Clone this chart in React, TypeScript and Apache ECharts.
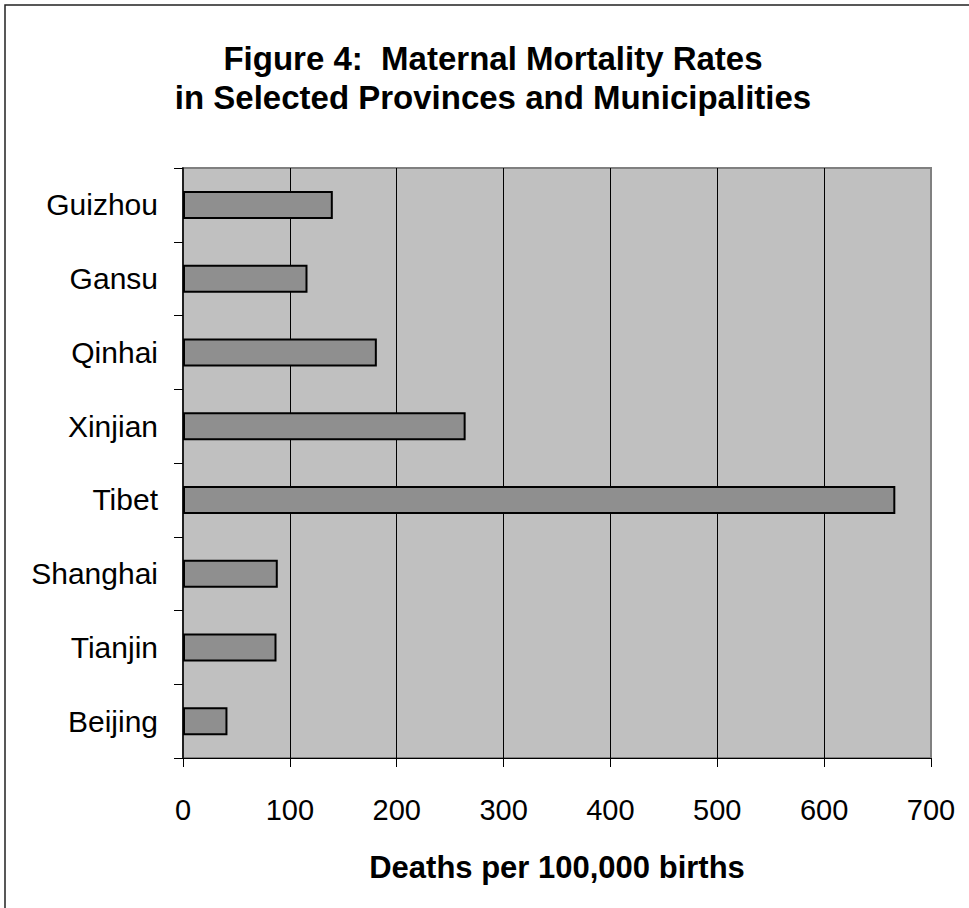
import React, { useEffect, useRef } from "react";
import * as echarts from "echarts";

const categories = ["Beijing", "Tianjin", "Shanghai", "Tibet", "Xinjian", "Qinhai", "Gansu", "Guizhou"];
const values = [41.6, 87.5, 88.7, 666.6, 264.5, 181.4, 116.5, 140.2];
const xTicks = { min: 0, max: 700, interval: 100 };
const titleLines = ["Figure 4:  Maternal Mortality Rates", "in Selected Provinces and Municipalities"];
const axisName = "Deaths per 100,000 births";

const FONT = "'Liberation Sans', Arial, Helvetica, sans-serif";

export default function App() {
  const ref = useRef<HTMLDivElement>(null);
  useEffect(() => {
    if (!ref.current) return;
    const chart = echarts.init(ref.current, undefined, { renderer: "svg" });
    chart.setOption({
      animation: false,
      backgroundColor: "#ffffff",
      grid: {
        left: 183,
        top: 168,
        right: 38,
        bottom: 150,
        show: true,
        backgroundColor: "#c0c0c0",
        borderColor: "#808080",
        borderWidth: 2,
      },
      graphic: [
        {
          type: "rect",
          shape: { x: 5, y: 5, width: 2000, height: 2000 },
          style: { fill: "none", stroke: "#222", lineWidth: 1.5 },
          silent: true,
        },
        {
          type: "text",
          x: 493,
          y: 58,
          style: {
            text: titleLines[0],
            font: `bold 33px ${FONT}`,
            fill: "#000",
            textAlign: "center",
            textVerticalAlign: "middle",
          },
        },
        {
          type: "text",
          x: 493,
          y: 97,
          style: {
            text: titleLines[1],
            font: `bold 33px ${FONT}`,
            fill: "#000",
            textAlign: "center",
            textVerticalAlign: "middle",
          },
        },
      ],
      xAxis: {
        type: "value",
        min: xTicks.min,
        max: xTicks.max,
        interval: xTicks.interval,
        name: axisName,
        nameLocation: "middle",
        nameGap: 94,
        nameTextStyle: { fontFamily: FONT, fontSize: 31, fontWeight: "bold", color: "#000" },
        axisLine: { show: true, lineStyle: { color: "#000", width: 1 } },
        axisTick: { show: true, length: 9, lineStyle: { color: "#000", width: 1 } },
        axisLabel: { fontFamily: FONT, fontSize: 29, color: "#000", margin: 37 },
        splitLine: { show: true, showMinLine: false, showMaxLine: false, lineStyle: { color: "#000", width: 1 } },
      },
      yAxis: {
        type: "category",
        data: categories,
        axisLine: { show: true, lineStyle: { color: "#000", width: 1.5 } },
        axisTick: { show: true, length: 9, lineStyle: { color: "#000", width: 1 } },
        axisLabel: { fontFamily: FONT, fontSize: 30, color: "#000", margin: 25 },
        splitLine: { show: false },
      },
      series: [
        {
          type: "bar",
          data: values,
          barWidth: 28,
          itemStyle: { color: "#8f8f8f", borderColor: "#000", borderWidth: 2 },
        },
      ],
    });
    return () => chart.dispose();
  }, []);
  return (
    <div
      ref={ref}
      style={{ position: "absolute", left: 0, top: 0, width: 969, height: 908 }}
    />
  );
}
